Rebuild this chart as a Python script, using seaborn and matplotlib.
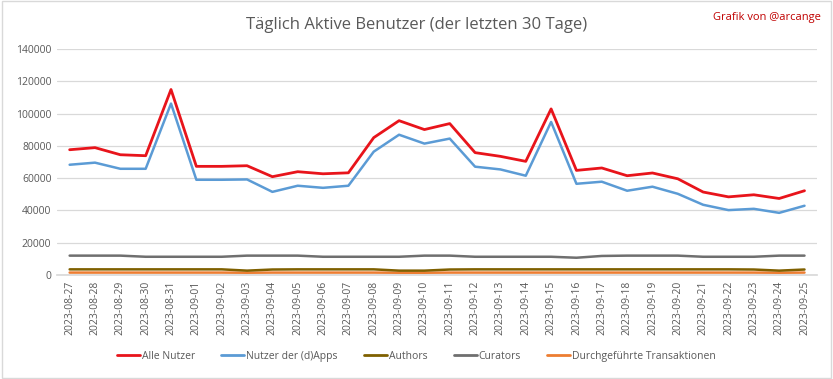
import pandas as pd
import matplotlib.pyplot as plt
import seaborn as sns

# ==================================================
# Daten
# ==================================================

dates = pd.date_range("2023-08-27", "2023-09-25").strftime("%Y-%m-%d").tolist()

alle_nutzer = [77600, 78900, 74500, 73900, 114900, 67300, 67300, 67700, 60900, 64000,
               62700, 63300, 85100, 95600, 90100, 93800, 75800, 73500, 70400, 102900,
               64800, 66300, 61500, 63200, 59600, 51400, 48400, 49700, 47400, 52200]
dapps = [68300, 69600, 65800, 65800, 106200, 59000, 59000, 59200, 51500, 55300,
         54000, 55300, 76400, 86900, 81400, 84500, 67100, 65400, 61500, 94800,
         56500, 57800, 52200, 54700, 50300, 43500, 40200, 41000, 38500, 42900]
authors = [3500, 3500, 3500, 3500, 3500, 3500, 3500, 2700, 3400, 3500,
           3500, 3500, 3500, 2700, 2700, 3400, 3500, 3500, 3500, 3500,
           3500, 3500, 3500, 3500, 3500, 3500, 3500, 3400, 2700, 3400]
curators = [12000, 12000, 12000, 11300, 11300, 11300, 11300, 12000, 12000, 12000,
            11300, 11300, 11300, 11300, 12000, 12000, 11300, 11300, 11300, 11300,
            10700, 11800, 12000, 12000, 12000, 11300, 11300, 11300, 12000, 12000]
transaktionen = [1500, 1500, 1500, 1500, 1500, 1500, 1500, 1400, 1500, 1500,
                 1500, 1500, 1500, 1400, 1400, 1500, 1500, 1500, 1500, 1500,
                 1500, 1500, 1500, 1500, 1500, 1500, 1500, 1500, 1400, 1500]

series = {
    "Alle Nutzer": alle_nutzer,
    "Nutzer der (d)Apps": dapps,
    "Authors": authors,
    "Curators": curators,
    "Durchgeführte Transaktionen": transaktionen,
}
colors = ["#E8141B", "#5B9BD5", "#7F6000", "#6F6F6F", "#ED7D31"]
widths = [2.0, 1.8, 1.8, 1.8, 1.8]

df = pd.DataFrame(series)
df["Datum"] = range(len(dates))
long_df = df.melt(id_vars="Datum", var_name="Serie", value_name="Wert")

# ==================================================
# Grafik
# ==================================================

sns.set_theme(style="white")
plt.rcParams["font.family"] = ["Open Sans", "DejaVu Sans"]

fig = plt.figure(figsize=(8.33, 3.79), dpi=100)
ax = fig.add_axes([0.0684, 0.2744, 0.9126, 0.5963])

sns.lineplot(data=long_df, x="Datum", y="Wert", hue="Serie",
             hue_order=list(series.keys()), palette=colors, ax=ax, legend=False)

# zuerst gezeichnete Linien sollen oben liegen
for i, line in enumerate(ax.get_lines()):
    line.set_linewidth(widths[i])
    line.set_zorder(10 - i)

ax.set_xlim(-0.5, len(dates) - 0.5)
ax.set_ylim(0, 140000)
ax.set_yticks(range(0, 140001, 20000))
ax.set_xticks(range(len(dates)))
ax.set_xticklabels(dates, rotation=90)
ax.tick_params(axis="both", labelsize=7.5, colors="#595959", length=0, pad=4)
ax.grid(axis="y", color="#D9D9D9", linewidth=0.9)
ax.set_axisbelow(True)
for side in ["top", "right", "left"]:
    ax.spines[side].set_visible(False)
ax.spines["bottom"].set_color("#D9D9D9")
ax.set_xlabel("")
ax.set_ylabel("")

fig.text(0.5, 0.935, "Täglich Aktive Benutzer (der letzten 30 Tage)",
         ha="center", va="center", fontsize=12, color="#595959")
fig.text(0.985, 0.955, "Grafik von @arcange", ha="right", va="center",
         fontsize=8, color="#C00000")

handles = [plt.Line2D([], [], color=c, linewidth=2) for c in colors]
fig.legend(handles, list(series.keys()), loc="center", bbox_to_anchor=(0.5, 0.06),
           ncol=5, frameon=False, fontsize=7.5, handlelength=2.2, handletextpad=0.2,
           columnspacing=2.5, labelcolor="#595959")

fig.patches.append(plt.Rectangle((0.002, 0.003), 0.996, 0.994, transform=fig.transFigure,
                                 fill=False, edgecolor="#D9D9D9", linewidth=1))

plt.savefig("out.png", dpi=100)
plt.close()
